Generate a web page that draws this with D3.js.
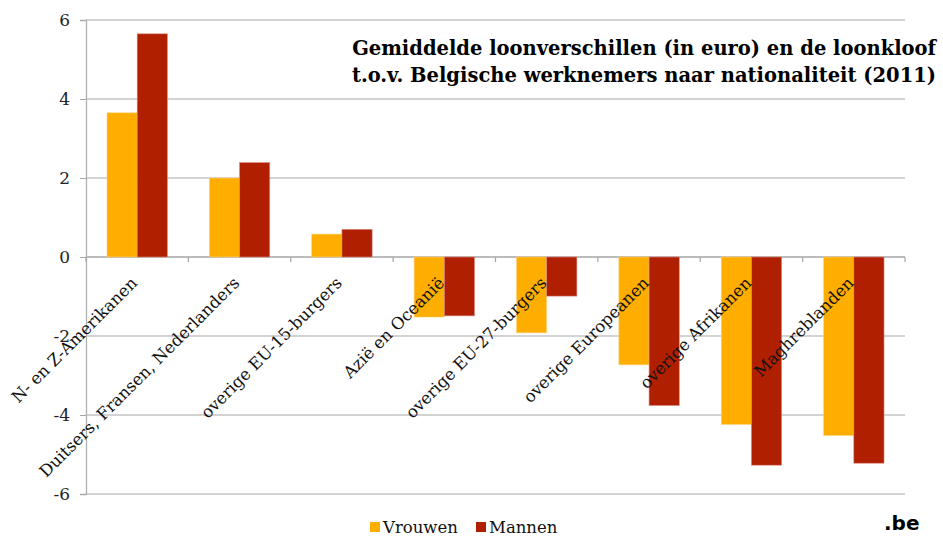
<!DOCTYPE html>
<html><head><meta charset="utf-8">
<script src="https://cdn.jsdelivr.net/npm/d3@7"></script>
<style>body{margin:0;background:#fff}svg{display:block}</style>
</head><body>
<script>
const categories = ["N- en Z-Amerikanen","Duitsers, Fransen, Nederlanders","overige EU-15-burgers","Azië en Oceanië","overige EU-27-burgers","overige Europeanen","overige Afrikanen","Maghreblanden"];
const vrouwen = [3.65, 2.0, 0.58, -1.52, -1.92, -2.73, -4.24, -4.52];
const mannen  = [5.65, 2.39, 0.70, -1.49, -0.99, -3.76, -5.27, -5.22];
const seriesNames = ["Vrouwen","Mannen"];
const yTicks = [-6,-4,-2,0,2,4,6];
const titleLines = ["Gemiddelde loonverschillen (in euro) en de loonkloof","t.o.v. Belgische werknemers naar nationaliteit (2011)"];

const W = 943, H = 537;
const colors = ["#FFAE00","#B02000"];
const serif = "'DejaVu Serif', Georgia, serif";
const svg = d3.select("body").append("svg").attr("width",W).attr("height",H);

const x0 = d3.scaleBand().domain(categories).range([86,905]).paddingInner(0.41).paddingOuter(0.205);
const x1 = d3.scaleBand().domain(seriesNames).range([0,x0.bandwidth()]);
const y = d3.scaleLinear().domain([-6,6]).range([494,20]);

// gridlines
svg.append("g").selectAll("line").data(yTicks).join("line")
  .attr("x1",86).attr("x2",905).attr("y1",d=>y(d)).attr("y2",d=>y(d))
  .attr("stroke",d=>d===0?"#a6a6a6":"#c4c4c4").attr("stroke-width",1.3);

// y axis
const yAxis = d3.axisLeft(y).tickValues(yTicks).tickSize(6).tickPadding(10).tickFormat(d=>d);
const ga = svg.append("g").attr("transform","translate(86,0)").call(yAxis);
ga.select(".domain").attr("stroke","#b0b0b0").attr("stroke-width",1.3);
ga.selectAll(".tick line").attr("stroke","#a6a6a6");
ga.selectAll(".tick text").attr("font-family",serif).attr("font-size",17).attr("fill","#222");

// category ticks on zero line
const bounds = d3.range(categories.length+1).map(i=>86 + i*(905-86)/categories.length);
svg.append("g").selectAll("line").data(bounds).join("line")
  .attr("x1",d=>d).attr("x2",d=>d).attr("y1",y(0)).attr("y2",y(0)+5)
  .attr("stroke","#a6a6a6").attr("stroke-width",1.2);

// bars
const data = categories.map((c,i)=>({c, vals:[vrouwen[i],mannen[i]]}));
const gb = svg.append("g");
data.forEach(d=>{
  d.vals.forEach((v,j)=>{
    gb.append("rect")
      .attr("x", x0(d.c)+x1(seriesNames[j]))
      .attr("width", x1.bandwidth())
      .attr("y", y(Math.max(0,v)))
      .attr("height", Math.abs(y(v)-y(0)))
      .attr("fill", colors[j])
      .attr("stroke", j===0?"#ffd27a":"#d98a80").attr("stroke-width",0.6);
  });
});

// category labels
svg.append("g").selectAll("text").data(categories).join("text")
  .attr("transform",d=>`translate(${x0(d)+x0.bandwidth()/2+1},${y(0)+27}) rotate(-45)`)
  .attr("text-anchor","end")
  .attr("font-family",serif).attr("font-size",16.5).attr("fill","#111")
  .text(d=>d);

// title (font size fitted to target width)
const tt = svg.append("g").selectAll("text").data(titleLines).join("text")
  .attr("x",936).attr("y",(d,i)=>55+i*27)
  .attr("text-anchor","end")
  .attr("font-family",serif).attr("font-weight","bold").attr("font-size",20).attr("fill","#000")
  .text(d=>d);
const targetW = 584;
const w0 = tt.nodes()[0].getComputedTextLength();
tt.attr("font-size", 20*targetW/w0);

// legend
const lg = svg.append("g");
const lx = [370,476];
seriesNames.forEach((s,i)=>{
  lg.append("rect").attr("x",lx[i]).attr("y",522).attr("width",10).attr("height",10).attr("fill",colors[i]);
  lg.append("text").attr("x",lx[i]+13).attr("y",533).attr("font-family",serif).attr("font-size",16.5).attr("fill","#111").text(s);
});

// logo
svg.append("text").attr("x",884).attr("y",530).attr("font-family","'DejaVu Sans', sans-serif")
  .attr("font-weight","bold").attr("font-size",20).attr("fill","#000").text(".be");
</script>
</body></html>
